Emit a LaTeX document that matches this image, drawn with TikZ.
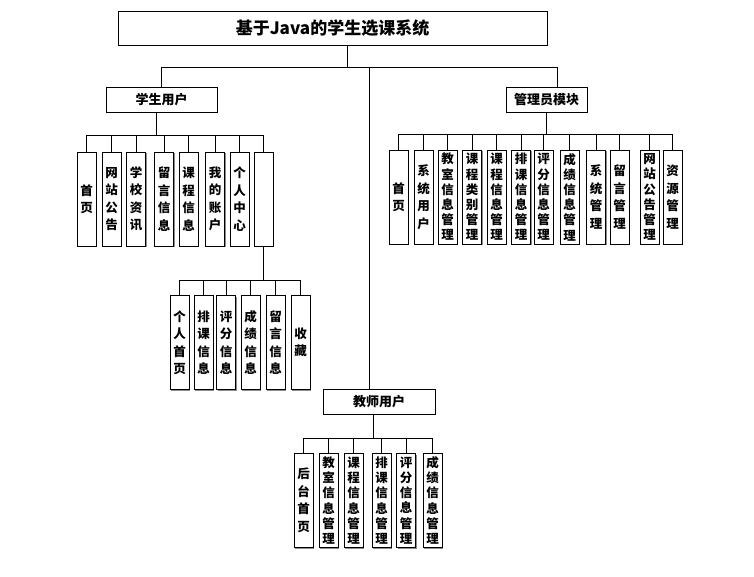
\documentclass[tikz,border=0pt]{standalone}
\usepackage{fontspec}
\setmainfont{Noto Sans CJK SC}
\usetikzlibrary{shadows}
\tikzset{
  base/.style={draw=black, line width=0.9pt, fill=white, inner sep=0pt, outer sep=0pt,
    drop shadow={shadow xshift=1.3pt, shadow yshift=-1.3pt, fill=black!45, opacity=1}},
  vb/.style={base, minimum width=19pt, minimum height=94pt, align=center,
    font=\fontsize{12.5}{17.5}\selectfont\bfseries},
  vbt/.style={vb, font=\fontsize{12.5}{15.2}\selectfont\bfseries},
  hb/.style={base, minimum height=25pt, font=\fontsize{13}{15}\selectfont\bfseries},
  tb/.style={base, minimum height=34pt, minimum width=429pt, font=\fontsize{17}{20}\selectfont\bfseries},
  ln/.style={draw=black, line width=0.9pt}
}
\begin{document}
\begin{tikzpicture}[x=1pt,y=-1pt]
\useasboundingbox (0,0) rectangle (754,577);
% top
\node[tb] (title) at (332.5,28) {基于Java的学生选课系统};
\node[hb, minimum width=111pt] (stu) at (161.5,99.5) {学生用户};
\node[hb, minimum width=81pt] (adm) at (546.5,99.5) {管理员模块};
\node[hb, minimum width=112pt] (tea) at (379,401.5) {教师用户};
% student children
\node[vb] (s1) at (86.5,199) {首\\页};
\node[vb] (s2) at (111.5,199) {网\\站\\公\\告};
\node[vb] (s3) at (136,199) {学\\校\\资\\讯};
\node[vb] (s4) at (164,199) {留\\言\\信\\息};
\node[vb] (s5) at (188.5,199) {课\\程\\信\\息};
\node[vb] (s6) at (215,199) {我\\的\\账\\户};
\node[vb] (s7) at (239.5,199) {个\\人\\中\\心};
\node[vb] (s8) at (263.5,199) {};
% personal centre children
\node[vb] (p1) at (179.5,342.5) {个\\人\\首\\页};
\node[vb] (p2) at (203.5,342.5) {排\\课\\信\\息};
\node[vb] (p3) at (226,342.5) {评\\分\\信\\息};
\node[vb] (p4) at (250.5,342.5) {成\\绩\\信\\息};
\node[vb] (p5) at (275.5,342.5) {留\\言\\信\\息};
\node[vb] (p6) at (300.5,342.5) {收\\藏};
% admin children
\node[vb] (a1) at (398.5,197) {首\\页};
\node[vb] (a2) at (423.5,197) {系\\统\\用\\户};
\node[vbt] (a3) at (447.5,197) {教\\室\\信\\息\\管\\理};
\node[vbt] (a4) at (472,197) {课\\程\\类\\别\\管\\理};
\node[vbt] (a5) at (496.5,197) {课\\程\\信\\息\\管\\理};
\node[vbt] (a6) at (521,197) {排\\课\\信\\息\\管\\理};
\node[vbt] (a7) at (543.5,197) {评\\分\\信\\息\\管\\理};
\node[vbt] (a8) at (569.5,197) {成\\绩\\信\\息\\管\\理};
\node[vb] (a9) at (596,197) {系\\统\\管\\理};
\node[vb] (a10) at (619.5,197) {留\\言\\管\\理};
\node[vbt] (a11) at (649.5,197) {网\\站\\公\\告\\管\\理};
\node[vb] (a12) at (672.5,197) {资\\源\\管\\理};
% teacher children
\node[vb] (t1) at (303.5,500.5) {后\\台\\首\\页};
\node[vbt] (t2) at (328.5,500.5) {教\\室\\信\\息\\管\\理};
\node[vbt] (t3) at (353.5,500.5) {课\\程\\信\\息\\管\\理};
\node[vbt] (t4) at (381.5,500.5) {排\\课\\信\\息\\管\\理};
\node[vbt] (t5) at (406,500.5) {评\\分\\信\\息\\管\\理};
\node[vbt] (t6) at (432.5,500.5) {成\\绩\\信\\息\\管\\理};
% junctions
\coordinate (j0) at (347,67);
\coordinate (ja) at (557,67);
\coordinate (jt) at (369,67);
\coordinate (sb) at (156,135);
\coordinate (pb) at (264,280);
\coordinate (ab) at (546,134);
\coordinate (tbus) at (373,438);
% top connectors
\draw[ln] (title.south -| j0) -- (j0);
\draw[ln] (stu.north |- j0) -- (ja) -- (adm.north -| ja);
\draw[ln] (stu.north |- j0) -- (stu.north);
\draw[ln] (jt) -- (tea.north -| jt);
% student bus
\draw[ln] (stu.south -| sb) -- (sb);
\draw[ln] (s1.north) -- (s1.north |- sb) -- (s8.north |- sb) -- (s8.north);
\foreach \i in {2,...,7} \draw[ln] (s\i.north) -- (s\i.north |- sb);
% personal bus
\draw[ln] (s8.south) -- (s8.south |- pb);
\draw[ln] (p1.north) -- (p1.north |- pb) -- (p6.north |- pb) -- (p6.north);
\foreach \i in {2,...,5} \draw[ln] (p\i.north) -- (p\i.north |- pb);
% admin bus
\draw[ln] (adm.south -| ab) -- (ab);
\draw[ln] (a1.north) -- (a1.north |- ab) -- (a12.north |- ab) -- (a12.north);
\foreach \i in {2,...,11} \draw[ln] (a\i.north) -- (a\i.north |- ab);
% teacher bus
\draw[ln] (tea.south -| tbus) -- (tbus);
\draw[ln] (t1.north) -- (t1.north |- tbus) -- (t6.north |- tbus) -- (t6.north);
\foreach \i in {2,...,5} \draw[ln] (t\i.north) -- (t\i.north |- tbus);
\end{tikzpicture}
\end{document}
